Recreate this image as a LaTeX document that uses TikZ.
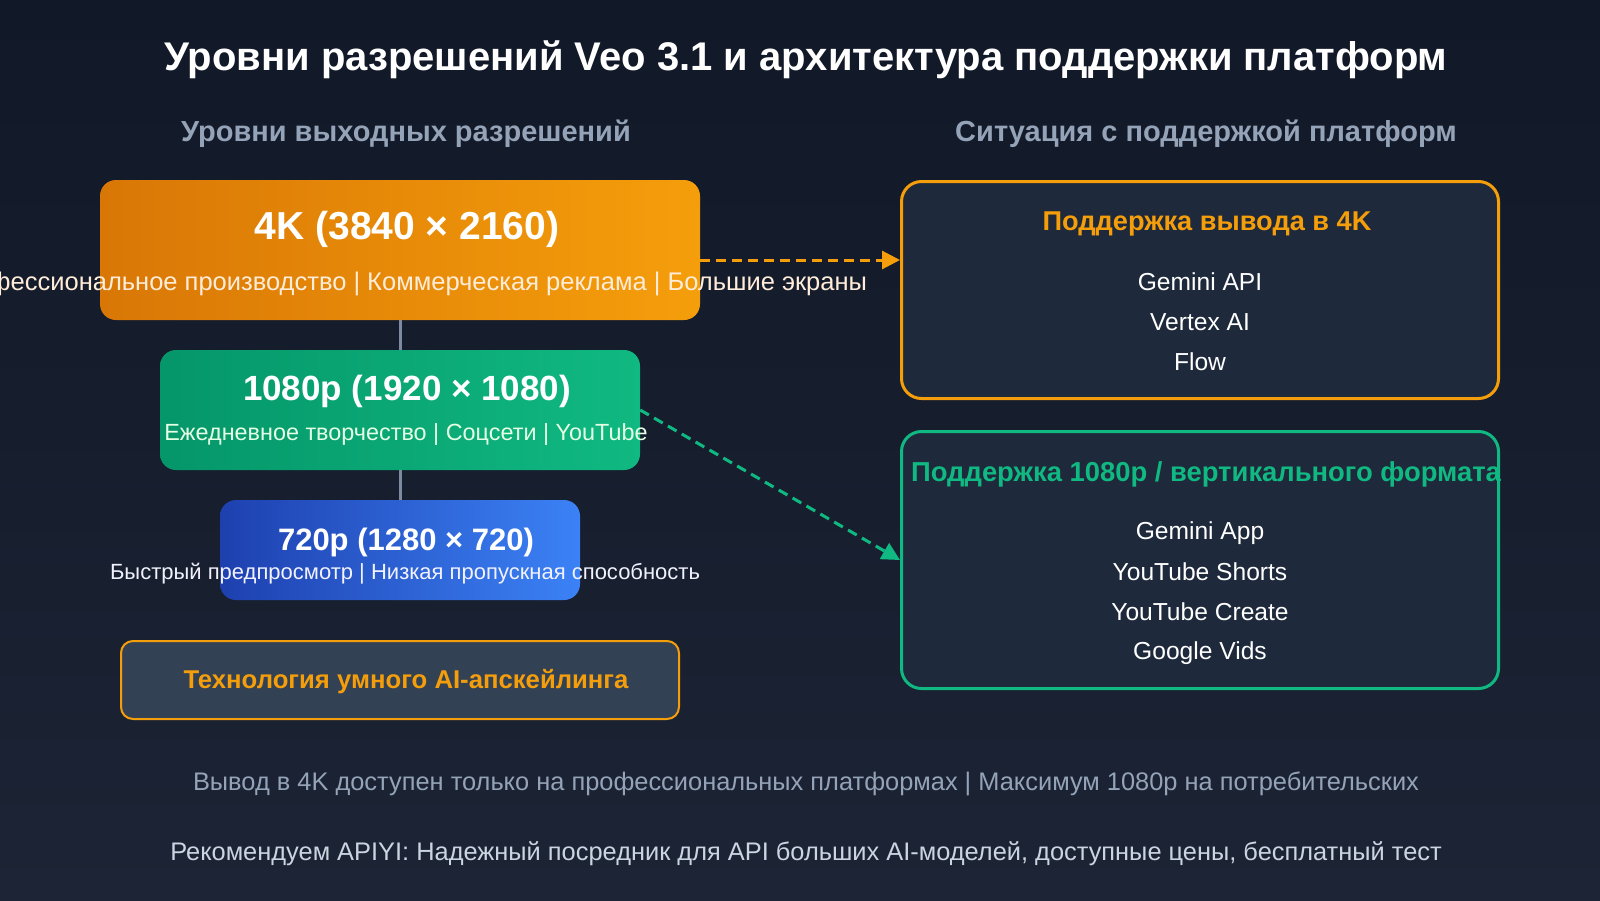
\documentclass[tikz,border=0pt]{standalone}
\usepackage{fontspec}
\setmainfont{Liberation Sans}
\usetikzlibrary{arrows.meta}

\definecolor{bgtop}{HTML}{111827}
\definecolor{bgbot}{HTML}{1C2435}
\definecolor{panel}{HTML}{1E293B}
\definecolor{slatebox}{HTML}{334155}
\definecolor{greytxt}{HTML}{94A3B8}
\definecolor{lighttxt}{HTML}{CBD5E1}
\definecolor{orangeA}{HTML}{D97706}
\definecolor{orangeB}{HTML}{F59E0B}
\definecolor{greenA}{HTML}{059669}
\definecolor{greenB}{HTML}{10B981}
\definecolor{blueA}{HTML}{1E40AF}
\definecolor{blueB}{HTML}{3B82F6}
\definecolor{linkgrey}{HTML}{7C8BA1}

\tikzstyle{resbox} = [rectangle, rounded corners=16pt, draw=none]
\tikzstyle{platbox} = [rectangle, rounded corners=20pt, line width=3pt, fill=panel, minimum width=597pt]
\tikzstyle{arrow} = [line width=3pt, dash pattern=on 10pt off 6pt, -{Triangle[length=18pt,width=18pt]}]
\newcommand{\fs}[1]{\fontsize{#1}{#1}\selectfont}

\begin{document}
\begin{tikzpicture}[x=1pt, y=-1pt, every node/.style={inner sep=0pt, text=white}]
        % Background
        \fill[top color=bgtop, bottom color=bgbot] (0,0) rectangle (1600,900);
        \useasboundingbox (0,0) rectangle (1600,900);

        % Node positions
        \node[font=\fs{40}\bfseries] (title) at (806,60) {Уровни разрешений Veo 3.1 и архитектура поддержки платформ};
        \node[font=\fs{29}\bfseries, text=greytxt] (lhead) at (406,134) {Уровни выходных разрешений};
        \node[font=\fs{29}\bfseries, text=greytxt] (rhead) at (1206,134) {Ситуация с поддержкой платформ};

        \node[resbox, left color=orangeA, right color=orangeB, minimum width=600pt, minimum height=140pt] (k4) at (400,250) {};
        \node[resbox, left color=greenA, right color=greenB, minimum width=480pt, minimum height=120pt] (p1080) at (400,410) {};
        \node[resbox, left color=blueA, right color=blueB, minimum width=360pt, minimum height=100pt] (p720) at (400,550) {};

        \node[font=\fs{39}\bfseries] (k4name) at (407,229) {4K (3840 × 2160)};
        \node[font=\fs{25.5}, text=orange!15] (k4use) at (405,284) {Профессиональное производство | Коммерческая реклама | Большие экраны};
        \node[font=\fs{35}\bfseries] (p1080name) at (407,391) {1080p (1920 × 1080)};
        \node[font=\fs{23.4}, text=green!10] (p1080use) at (406,434) {Ежедневное творчество | Соцсети | YouTube};
        \node[font=\fs{31}\bfseries] (p720name) at (406,542) {720p (1280 × 720)};
        \node[font=\fs{22}, text=blue!5] (p720use) at (405,574) {Быстрый предпросмотр | Низкая пропускная способность};

        \node[rectangle, rounded corners=12pt, fill=slatebox, draw=orangeB, line width=2pt, minimum width=558pt, minimum height=78pt] (upscale) at (400,680) {};
        \node[font=\fs{25.7}\bfseries, text=orangeB] (upscaletxt) at (406,682) {Технология умного AI-апскейлинга};

        \node[platbox, draw=orangeB, minimum height=217pt] (s4k) at (1200,290) {};
        \node[platbox, draw=greenB, minimum height=257pt] (s1080) at (1200,560) {};

        \node[font=\fs{27.2}\bfseries, text=orangeB] (s4khead) at (1207,224) {Поддержка вывода в 4K};
        \node[font=\fs{24.6}] (gapi) at (1200,282) {Gemini API};
        \node[font=\fs{24.6}] (vertex) at (1200,322) {Vertex AI};
        \node[font=\fs{24.6}] (flow) at (1200,362) {Flow};

        \node[font=\fs{27.4}\bfseries, text=greenB] (s1080head) at (1206,474) {Поддержка 1080p / вертикального формата};
        \node[font=\fs{24.6}] (gapp) at (1200,533) {Gemini App};
        \node[font=\fs{24.6}] (shorts) at (1200,572) {YouTube Shorts};
        \node[font=\fs{24.6}] (create) at (1200,612) {YouTube Create};
        \node[font=\fs{24.6}] (vids) at (1200,653) {Google Vids};

        \node[font=\fs{25.4}, text=greytxt] (note) at (806,784) {Вывод в 4K доступен только на профессиональных платформах | Максимум 1080p на потребительских};
        \node[font=\fs{25.4}, text=lighttxt] (promo) at (806,854) {Рекомендуем APIYI: Надежный посредник для API больших AI-моделей, доступные цены, бесплатный тест};

        \draw[linkgrey, line width=3pt] (k4) -- (p1080);
        \draw[linkgrey, line width=3pt] (p1080) -- (p720);

        \draw[arrow, orangeB] ([yshift=-10pt]k4.east) -- ([yshift=30pt]s4k.west);
        \draw[arrow, greenB] (p1080.east) -- (s1080.west);
\end{tikzpicture}
\end{document}
